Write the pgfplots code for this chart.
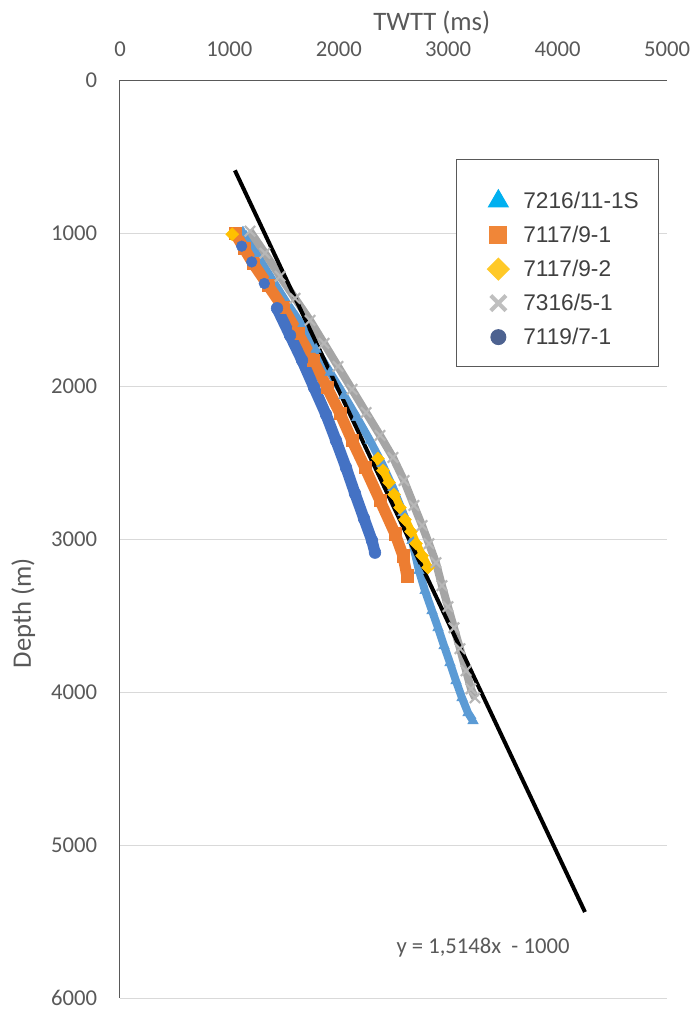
\documentclass[border=0pt]{standalone}
\usepackage{fontspec}
\setmainfont{Carlito}
\newfontfamily\legendfont{Liberation Sans}
\usepackage{pgfplots}
\pgfplotsset{compat=1.18}
\definecolor{cLB}{HTML}{5B9BD5}
\definecolor{cOR}{HTML}{ED7D31}
\definecolor{cYE}{HTML}{FFC000}
\definecolor{cGR}{HTML}{A5A5A5}
\definecolor{cDB}{HTML}{4472C4}
\definecolor{lLB}{HTML}{00B0F0}
\definecolor{lOR}{HTML}{F08638}
\definecolor{lYE}{HTML}{FFC928}
\definecolor{lGR}{HTML}{BFBFBF}
\definecolor{lDB}{HTML}{4D6290}
\definecolor{cAxis}{HTML}{595959}
\definecolor{cGrid}{HTML}{D9D9D9}
\definecolor{cText}{HTML}{595959}
\definecolor{cLeg}{HTML}{404040}

\pgfplotstableread{
x d
1124 995
1261 1152
1389 1302
1527 1459
1664 1603
1792 1760
1920 1911
2048 2062
2166 2206
2285 2356
2395 2507
2495 2664
2587 2827
2669 3010
2733 3207
2788 3338
2852 3469
2907 3580
2962 3698
3016 3809
3071 3927
3126 4038
3181 4136
3227 4188
}\tblLB

\pgfplotstableread{
x d
1051 1001
1133 1099
1216 1198
1353 1342
1490 1486
1627 1656
1764 1832
1892 2009
2011 2179
2121 2356
2239 2533
2377 2749
2514 2965
2587 3109
2623 3240
}\tblOR

\pgfplotstableread{
x d
2358 2474
2404 2552
2459 2631
2505 2709
2559 2795
2605 2873
2660 2952
2706 3030
2761 3109
2815 3187
}\tblYE

\pgfplotstableread{
x d
1188 988
1325 1132
1463 1283
1600 1427
1737 1571
1865 1721
1993 1872
2121 2022
2249 2173
2377 2323
2495 2467
2596 2618
2687 2781
2761 2912
2824 3030
2888 3154
2943 3305
2998 3442
3053 3580
3108 3717
3163 3861
3208 3979
3245 4038
}\tblGR

\pgfplotstableread{
x d
1435 1492
1554 1669
1664 1832
1773 2009
1883 2186
1974 2356
2066 2533
2148 2703
2230 2866
2303 3010
2331 3089
}\tblDB

\begin{document}
\begin{tikzpicture}
\begin{axis}[
  scale only axis, width=410.25pt, height=688.5pt,
  at={(0,0)}, anchor=south west,
  xmin=0, xmax=5000, ymin=0, ymax=6000, y dir=reverse,
  axis line style={draw=none},
  xtick={0,1000,...,5000}, ytick={0,1000,...,6000},
  major tick length=0pt,
  ymajorgrids, grid style={draw=cGrid, line width=0.75pt},
  /pgf/number format/assume math mode=true,
  /pgf/number format/1000 sep={},
  tick label style={font=\fontsize{17}{20}\selectfont, text=cText},
  xticklabel pos=upper,
  xticklabel style={inner sep=0pt, anchor=south, yshift=17pt},
  yticklabel style={inner sep=0pt, anchor=east, xshift=-17pt},
  xlabel={TWTT (ms)}, ylabel={Depth (m)},
  label style={font=\fontsize{20}{24}\selectfont, text=cText},
  xlabel style={at={(axis description cs:0.570,1.062)}, anchor=center},
  ylabel style={at={(axis description cs:-0.177,0.419)}, anchor=center},
  clip=false,
  legend image code/.code={\path[draw=none,fill=none] (-16.5pt,-8.25pt) rectangle (10pt,17.25pt); \draw[#1, mark repeat=1] plot coordinates {(0pt,0pt)};},
  legend style={at={(axis description cs:0.614,0.914)}, anchor=north west,
    draw=cAxis, line width=0.75pt, fill=white, inner xsep=15pt, inner ysep=14pt,
    column sep=8.75pt, row sep=0pt,
    nodes={inner sep=0pt},
    font=\legendfont\fontsize{17}{20}\selectfont, text=cLeg},
  legend cell align=left,
]
% bands (continuous look of dense markers)
\addplot[forget plot, cLB, line width=6pt, line join=round] table[x=x,y=d]{\tblLB};
\addplot[forget plot, only marks, mark=triangle*, mark size=4.5pt, color=cLB] table[x=x,y=d]{\tblLB};
\addplot[forget plot, cOR, line width=8.5pt, line join=round] table[x=x,y=d]{\tblOR};
\addplot[forget plot, only marks, mark=square*, mark size=4.6pt, color=cOR] table[x=x,y=d]{\tblOR};
\addplot[forget plot, cYE, line width=6.5pt, line join=round] table[x=x,y=d]{\tblYE};
\addplot[forget plot, only marks, mark=square*, mark size=3.4pt, mark options={rotate=45}, color=cYE] table[x=x,y=d]{\tblYE};
\addplot[forget plot, only marks, mark=square*, mark size=3.4pt, mark options={rotate=45}, color=cYE] coordinates {(1026,1008)};
\addplot[forget plot, cGR, line width=6pt, line join=round] table[x=x,y=d]{\tblGR};
\addplot[forget plot, only marks, mark=x, mark size=5.5pt, line width=1.6pt, color=cGR!80!white] table[x=x,y=d]{\tblGR};
\addplot[forget plot, cDB, line width=8.5pt, line join=round] table[x=x,y=d]{\tblDB};
\addplot[forget plot, only marks, mark=*, mark size=4.4pt, color=cDB] table[x=x,y=d]{\tblDB};
\addplot[forget plot, only marks, mark=*, mark size=4pt, color=cDB] coordinates {(1112,1086) (1204,1189) (1319,1330)};
% trendline y = 1.5148x - 1000
\addplot[forget plot, black, line width=3pt] coordinates {(1050,590.5) (4250,5437.9)};
% axis lines
\draw[cAxis, line width=0.75pt] (axis cs:0,0) -- (axis cs:5000,0);
\draw[cAxis, line width=0.75pt] (axis cs:0,0) -- (axis cs:0,6000);
\node[font=\fontsize{17}{20}\selectfont, text=cText] at (axis cs:3318,5668) {y = 1,5148x\ \ - 1000};
% legend
\addlegendimage{only marks, mark=triangle*, mark size=8.5pt, color=lLB}
\addlegendentry{7216/11-1S}
\addlegendimage{only marks, mark=square*, mark size=6.3pt, color=lOR}
\addlegendentry{7117/9-1}
\addlegendimage{only marks, mark=square*, mark size=5.8pt, mark options={rotate=45}, color=lYE}
\addlegendentry{7117/9-2}
\addlegendimage{only marks, mark=x, mark size=8pt, line width=3pt, color=lGR}
\addlegendentry{7316/5-1}
\addlegendimage{only marks, mark=*, mark size=5.6pt, color=lDB}
\addlegendentry{7119/7-1}
\end{axis}
\pgfresetboundingbox
\path (-90pt,-9pt) rectangle (432.75pt,748.5pt);
\end{tikzpicture}
\end{document}
